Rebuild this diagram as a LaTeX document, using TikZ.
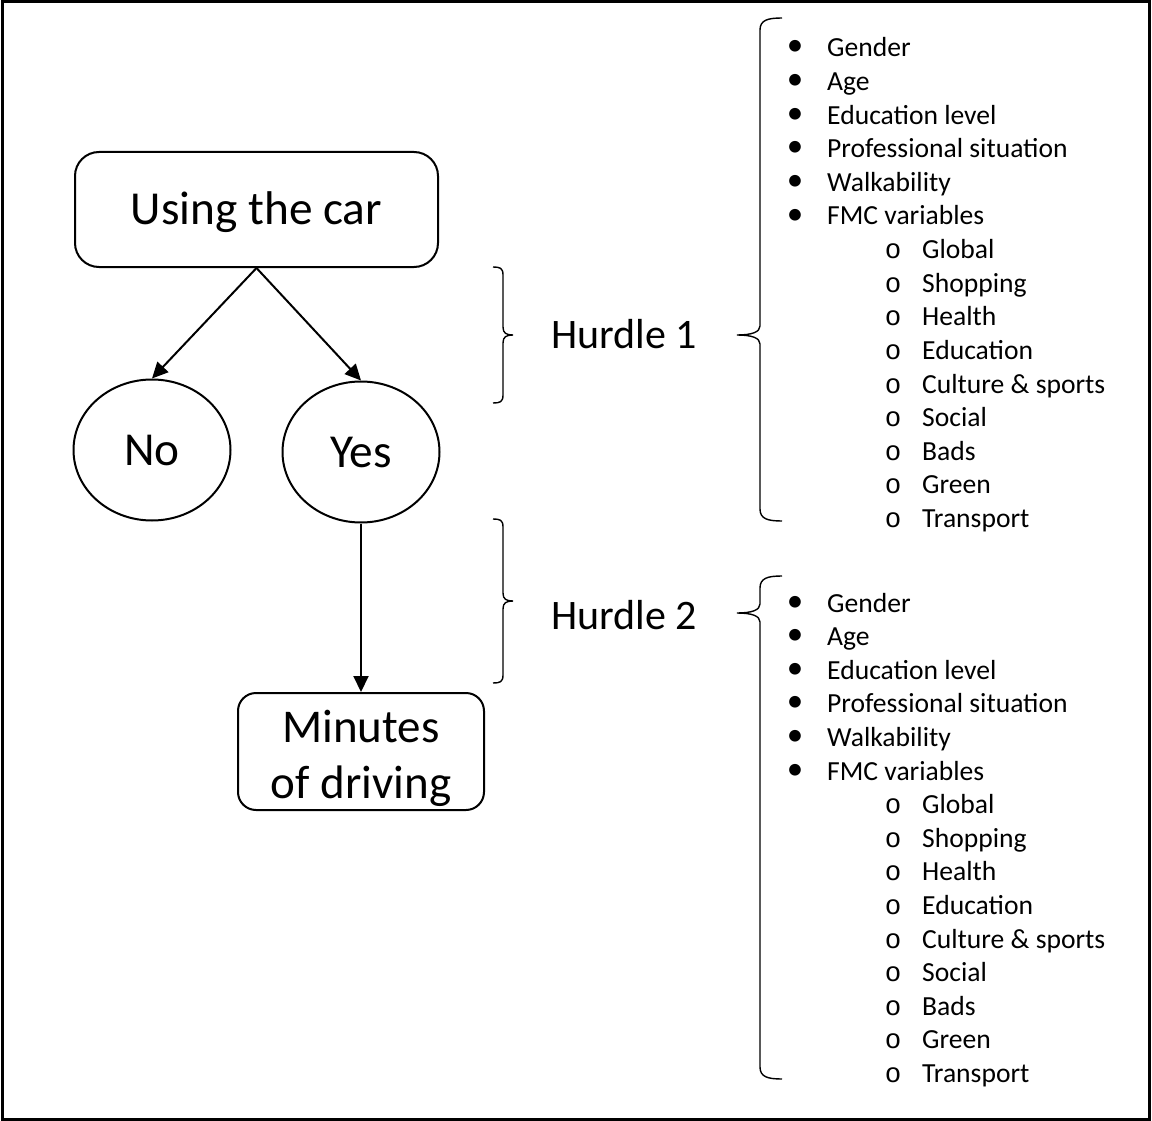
\documentclass[tikz,border=0pt]{standalone}
\usepackage{fontspec}
\setmainfont{Carlito}
\newfontfamily\monofam{Liberation Mono}
\usetikzlibrary{shapes.geometric,arrows.meta}
\tikzset{
  box/.style={draw,line width=2pt,rounded corners=24pt,inner sep=0pt},
  oval/.style={draw,ellipse,line width=2pt,inner sep=0pt,minimum width=157pt,minimum height=141pt},
  big/.style={font=\fontsize{47.3}{56}\selectfont,text height=33pt,text depth=2pt},
  arr/.style={line width=2pt,-{Triangle[length=16pt,width=15pt]}},
  brace/.style={line width=1.4pt},
  hurdle/.style={font=\fontsize{42}{50}\selectfont,anchor=base,inner sep=0pt},
  bul/.style={font=\fontsize{33}{33.6}\selectfont,anchor=base,inner sep=0pt,yshift=1pt},
  sub/.style={font=\fontsize{27.5}{33.6}\monofam,anchor=base,inner sep=0pt},
  item/.style={font=\fontsize{27.6}{33.6}\selectfont,anchor=base west,inner sep=0pt}
}
\begin{document}
\begin{tikzpicture}[x=1pt,y=-1pt]
\useasboundingbox (0,0) rectangle (1152,1121);
\draw[line width=3pt] (2.5,2) rectangle (1149.5,1119);

% flow nodes
\node[box,big,minimum width=363pt,minimum height=115pt] (car) at (256.5,209.5) {Using the car};
\node[oval,big] (no) at (152,450) {No};
\node[oval,big] (yes) at (361,452) {Yes};
\node[box,align=center,font=\fontsize{47}{56}\selectfont,text height=95pt,text depth=2pt,minimum width=246pt,minimum height=117pt,rounded corners=18pt] (min) at (361,751.5) {Minutes\\of driving};

\draw[arr] (car.south) -- (no.north);
\draw[arr] (car.south) -- (yes.north);
\draw[arr] (yes.south) -- (min.north);

% small braces
\draw[brace] (493,267) .. controls (500,267) and (503,268) .. (503,275) -- (503,327)
  .. controls (503,333) and (506,335) .. (513,335)
  .. controls (506,335) and (503,337) .. (503,343) -- (503,395)
  .. controls (503,402) and (500,403) .. (493,403);
\draw[brace] (493,519) .. controls (500,519) and (503,520) .. (503,527) -- (503,593)
  .. controls (503,599) and (506,601) .. (513,601)
  .. controls (506,601) and (503,603) .. (503,609) -- (503,675)
  .. controls (503,682) and (500,683) .. (493,683);

% large braces
\draw[brace] (782,18) .. controls (768,18) and (760,20) .. (760,30) -- (760,326)
  .. controls (760,332) and (752,335) .. (737,335)
  .. controls (752,335) and (760,338) .. (760,344) -- (760,509)
  .. controls (760,519) and (768,521) .. (782,521);
\draw[brace] (782,576) .. controls (768,576) and (760,578) .. (760,588) -- (760,604)
  .. controls (760,610) and (752,613) .. (737,613)
  .. controls (752,613) and (760,616) .. (760,622) -- (760,1067)
  .. controls (760,1077) and (768,1079) .. (782,1079);

\node[hurdle] (h1) at (624,348) {Hurdle 1};
\node[hurdle] (h2) at (624,629) {Hurdle 2};

% lists
\foreach \base/\L in {57/a,612/b}{
  \foreach \t [count=\i from 0] in {Gender,Age,Education level,Professional situation,Walkability,FMC variables}{
    \node[bul] (bul\L\i) at (795,\base+33.6*\i) {•};
    \node[item] (itm\L\i) at (827,\base+33.6*\i) {\t};
  }
  \foreach \t [count=\i from 6] in {Global,Shopping,Health,Education,{Culture \& sports},Social,Bads,Green,Transport}{
    \node[sub] (bul\L\i) at (893,\base+33.6*\i) {o};
    \node[item] (itm\L\i) at (922,\base+33.6*\i) {\t};
  }
}
\end{tikzpicture}
\end{document}
